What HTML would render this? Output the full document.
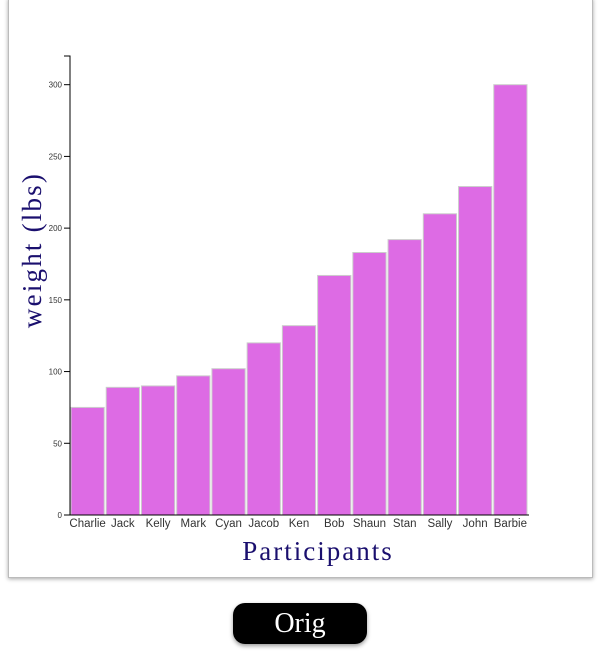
<!DOCTYPE html>
<html><head><style>
body{margin:0;width:600px;height:655px;background:#fff;position:relative;overflow:hidden;font-family:"Liberation Sans",sans-serif}
#panel{position:absolute;left:8px;top:-2px;width:583px;height:578px;border:1px solid #bbb;box-shadow:0 1px 4px rgba(0,0,0,.35);background:#fff}
#btn{position:absolute;left:233px;top:603px;width:134px;height:41px;background:#000;border-radius:12px;color:#fff;font:28px "Liberation Serif",serif;text-align:center;line-height:41px;box-shadow:0 2px 4px rgba(0,0,0,.4)}
</style></head><body>
<div id="panel"></div>
<svg id="chart" width="600" height="600" style="position:absolute;left:0;top:0"></svg>
<div id="btn">Orig</div>
<script>
const categories=["Charlie","Jack","Kelly","Mark","Cyan","Jacob","Ken","Bob","Shaun","Stan","Sally","John","Barbie"];
const weights=[75,89,90,97,102,120,132,167,183,192,210,229,300];
const yTicks=[0,50,100,150,200,250,300];
const ns="http://www.w3.org/2000/svg",svg=document.getElementById('chart');
const x0=70,x1=528,yBase=515,yMax=320,yTop=56;
const step=(x1-x0)/categories.length;
const y=v=>yBase-v*(yBase-yTop)/yMax;
function mk(t,a,p){const e=document.createElementNS(ns,t);for(const k in a)e.setAttribute(k,a[k]);(p||svg).appendChild(e);return e;}
categories.forEach((c,i)=>{
 const r=mk('rect',{x:x0+i*step+1,y:y(weights[i]),width:step-2,height:yBase-y(weights[i]),fill:'#dd6be4',stroke:'#ccc','stroke-width':1});
 
 
 const t=mk('text',{x:x0+i*step+step/2,y:yBase+12,'text-anchor':'middle','font-size':11.5,fill:'#333'});
 t.textContent=c;
 
 
});
const ax=mk('path',{d:`M${x0-6},${yTop}H${x0}V${yBase}H${x1+1}`,fill:'none',stroke:'#000','stroke-width':1});


yTicks.forEach(v=>{
 mk('line',{x1:x0-6,x2:x0,y1:y(v),y2:y(v),stroke:'#000'});
 const t=mk('text',{x:x0-8,y:y(v)+3,'text-anchor':'end','font-size':8,fill:'#333'});
 t.textContent=v;
 
 
});
const yl=mk('text',{transform:'translate(41,250) rotate(-90)','text-anchor':'middle','font-size':27,'font-family':'Liberation Serif,serif',fill:'#1a0f6e','letter-spacing':'2.2'});
yl.textContent='weight (lbs)';


const xl=mk('text',{x:318,y:560,'text-anchor':'middle','font-size':27,'font-family':'Liberation Serif,serif',fill:'#1a0f6e','letter-spacing':'2'});
xl.textContent='Participants';


</script>
</body></html>
